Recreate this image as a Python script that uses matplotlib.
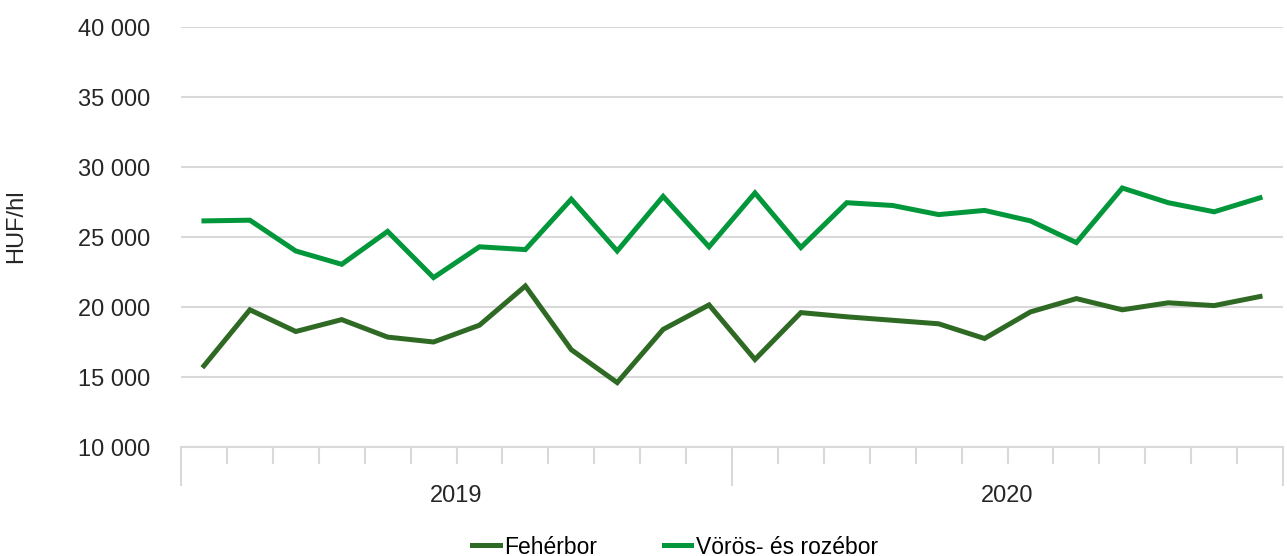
import matplotlib
matplotlib.use("Agg")
import matplotlib.pyplot as plt
from matplotlib.ticker import FixedLocator

plt.rcParams['font.family'] = ['Liberation Sans', 'DejaVu Sans']

years = ['2019', '2020']
months_per_year = 12

feher = [15800, 19800, 18250, 19100, 17850, 17500, 18700, 21500, 16950, 14600, 18400, 20150,
         16250, 19600, 19300, 19050, 18800, 17750, 19650, 20600, 19800, 20300, 20100, 20750]
voros = [26150, 26200, 24000, 23050, 25400, 22100, 24300, 24100, 27700, 24000, 27900, 24300,
         28150, 24250, 27450, 27250, 26600, 26900, 26150, 24600, 28500, 27450, 26800, 27800]

y_ticks = [10000, 15000, 20000, 25000, 30000, 35000, 40000]
y_labels = ['10 000', '15 000', '20 000', '25 000', '30 000', '35 000', '40 000']

dark_green = '#2f6a25'
light_green = '#03973b'
grid_col = '#d9d9d9'
txt_col = '#262626'
fs = 17

fig = plt.figure(figsize=(12.87, 5.56), dpi=100)
ax = fig.add_axes([181 / 1287, 1 - 447 / 556, 1102 / 1287, 420 / 556])

x = list(range(len(feher)))
ax.plot(x, feher, color=dark_green, lw=3.6, label='Fehérbor', solid_joinstyle='miter')
ax.plot(x, voros, color=light_green, lw=3.6, label='Vörös- és rozébor', solid_joinstyle='miter')

ax.set_xlim(-0.5, len(feher) - 0.5)
ax.set_ylim(10000, 40000)
ax.set_yticks(y_ticks)
ax.set_yticklabels(y_labels, fontsize=fs, color=txt_col)
ax.tick_params(axis='y', length=0, pad=22)
ax.grid(axis='y', color=grid_col, lw=1.5)
ax.set_axisbelow(True)

for s in ['top', 'right', 'left']:
    ax.spines[s].set_visible(False)
ax.spines['bottom'].set_color(grid_col)
ax.spines['bottom'].set_linewidth(1.5)

n = len(feher)
year_bounds = [i * months_per_year - 0.5 for i in range(len(years) + 1)]
month_bounds = [i - 0.5 for i in range(n + 1) if (i % months_per_year) != 0]
ax.xaxis.set_major_locator(FixedLocator(year_bounds))
ax.xaxis.set_minor_locator(FixedLocator(month_bounds))
ax.tick_params(axis='x', which='major', length=28, width=1.5, color=grid_col, labelbottom=False)
ax.tick_params(axis='x', which='minor', length=12, width=1.5, color=grid_col)

for k, yr in enumerate(years):
    ax.text(k * months_per_year + (months_per_year - 1) / 2, -0.117, yr,
            transform=ax.get_xaxis_transform(), ha='center', va='center',
            fontsize=fs, color=txt_col)

fig.text(16 / 1287, 1 - 226 / 556, 'HUF/hl', rotation=90, ha='center', va='center',
         fontsize=fs, color=txt_col)

fig.legend(loc='center', bbox_to_anchor=(675 / 1287, 1 - 547 / 556), ncol=2, frameon=False,
           fontsize=16.5, handlelength=1.2, handletextpad=0.2, columnspacing=2.9)

fig.savefig('out.png', dpi=100)
